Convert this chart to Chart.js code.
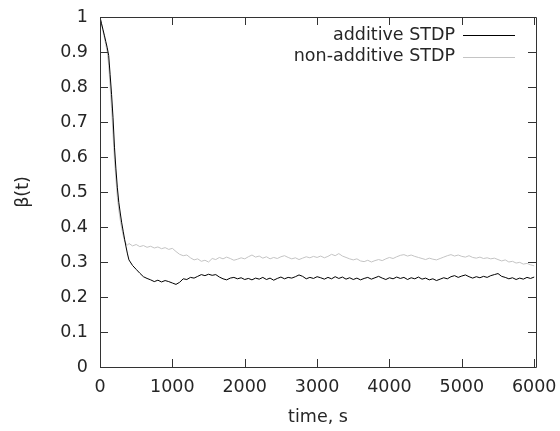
<!DOCTYPE html>
<html>
<head>
<meta charset="utf-8">
<script src="https://cdn.jsdelivr.net/npm/chart.js@4.4.1/dist/chart.umd.min.js"></script>
<style>
    html, body { margin: 0; padding: 0; background: #fff; }
    #wrap { width: 560px; height: 431px; }
</style>
</head>
<body>
<div id="wrap"><canvas id="betaChart" width="560" height="431"></canvas></div>
<script>
// time samples (s)
const times = [
    0, 20, 40, 60, 80, 100, 120, 140, 160, 180, 200, 220, 240, 260, 280, 300, 320, 340, 360, 380, 400,
    450, 500, 550, 600, 650, 700, 750, 800, 850, 900,
    950, 1000, 1050, 1100, 1150, 1200, 1250, 1300, 1350, 1400,
    1450, 1500, 1550, 1600, 1650, 1700, 1750, 1800, 1850, 1900,
    1950, 2000, 2050, 2100, 2150, 2200, 2250, 2300, 2350, 2400,
    2450, 2500, 2550, 2600, 2650, 2700, 2750, 2800, 2850, 2900,
    2950, 3000, 3050, 3100, 3150, 3200, 3250, 3300, 3350, 3400,
    3450, 3500, 3550, 3600, 3650, 3700, 3750, 3800, 3850, 3900,
    3950, 4000, 4050, 4100, 4150, 4200, 4250, 4300, 4350, 4400,
    4450, 4500, 4550, 4600, 4650, 4700, 4750, 4800, 4850, 4900,
    4950, 5000, 5050, 5100, 5150, 5200, 5250, 5300, 5350, 5400,
    5450, 5500, 5550, 5600, 5650, 5700, 5750, 5800, 5850, 5900,
    5950, 6000
];

// beta(t), additive STDP
const additive = [
    1.000, 0.982, 0.965, 0.948, 0.930, 0.912, 0.890, 0.835, 0.778, 0.712, 0.628, 0.566, 0.512, 0.470, 0.440, 0.412, 0.388, 0.365, 0.343, 0.323, 0.306,
    0.290, 0.279, 0.268, 0.258, 0.253, 0.249, 0.244, 0.248, 0.243, 0.247,
    0.244, 0.240, 0.236, 0.242, 0.252, 0.250, 0.256, 0.254, 0.259, 0.264,
    0.261, 0.265, 0.262, 0.264, 0.257, 0.252, 0.249, 0.254, 0.256, 0.252,
    0.255, 0.250, 0.253, 0.249, 0.254, 0.251, 0.256, 0.250, 0.254, 0.248,
    0.253, 0.257, 0.252, 0.256, 0.254, 0.258, 0.263, 0.259, 0.252, 0.256,
    0.253, 0.258, 0.255, 0.251, 0.256, 0.252, 0.258, 0.253, 0.257, 0.251,
    0.255, 0.250, 0.254, 0.249, 0.253, 0.256, 0.251, 0.255, 0.259, 0.254,
    0.250, 0.255, 0.252, 0.257, 0.253, 0.256, 0.250, 0.255, 0.252, 0.257,
    0.251, 0.254, 0.249, 0.252, 0.247, 0.251, 0.255, 0.252, 0.258, 0.261,
    0.256, 0.260, 0.263, 0.258, 0.254, 0.258, 0.255, 0.259, 0.256, 0.261,
    0.264, 0.267, 0.259, 0.256, 0.252, 0.255, 0.250, 0.254, 0.251, 0.256,
    0.253, 0.257
];

// beta(t), non-additive STDP
const nonAdditive = [
    1.000, 0.980, 0.961, 0.941, 0.921, 0.900, 0.862, 0.802, 0.738, 0.665, 0.592, 0.537, 0.484, 0.448, 0.420, 0.396, 0.376, 0.360, 0.352, 0.348, 0.353,
    0.346, 0.350, 0.344, 0.347, 0.342, 0.345, 0.340, 0.343, 0.338, 0.341,
    0.336, 0.339, 0.330, 0.322, 0.318, 0.320, 0.312, 0.306, 0.309, 0.302,
    0.305, 0.300, 0.310, 0.307, 0.313, 0.309, 0.314, 0.310, 0.305, 0.308,
    0.312, 0.309, 0.315, 0.320, 0.314, 0.317, 0.311, 0.315, 0.309, 0.313,
    0.310, 0.315, 0.318, 0.313, 0.309, 0.312, 0.307, 0.311, 0.315, 0.312,
    0.316, 0.313, 0.317, 0.312, 0.316, 0.322, 0.318, 0.324, 0.317, 0.313,
    0.309, 0.306, 0.309, 0.303, 0.301, 0.305, 0.300, 0.304, 0.307, 0.304,
    0.309, 0.313, 0.310, 0.315, 0.319, 0.321, 0.317, 0.320, 0.316, 0.313,
    0.310, 0.307, 0.311, 0.308, 0.306, 0.310, 0.314, 0.318, 0.321, 0.317,
    0.320, 0.316, 0.314, 0.318, 0.313, 0.311, 0.314, 0.310, 0.312, 0.309,
    0.311, 0.307, 0.303, 0.306, 0.300, 0.302, 0.297, 0.299, 0.294, 0.296,
    0.292, 0.289
];

const xTickValues = [0, 1000, 2000, 3000, 4000, 5000, 6000];
const yTickValues = [0, 0.1, 0.2, 0.3, 0.4, 0.5, 0.6, 0.7, 0.8, 0.9, 1];
const seriesLabels = ['additive STDP', 'non-additive STDP'];
const seriesColors = ['#000000', '#c4c4c4'];

const FONT = 'DejaVu Sans';
const FONT_SIZE = 17.5;
const TEXT_COLOR = '#262626';

function toPoints(ys) {
    return ys.map((y, i) => ({ x: times[i], y: y }));
}

// no label overhang padding: the plot box is set by layout.padding alone
function noScalePadding(scale) {
    scale.paddingLeft = 0;
    scale.paddingRight = 0;
    scale.paddingTop = 0;
    scale.paddingBottom = 0;
}

// gnuplot-like frame with inward ticks on all four sides, and in-plot key
const framePlugin = {
    id: 'frame',
    afterDatasetsDraw(chart) {
        const ctx = chart.ctx;
        const a = chart.chartArea;
        const xs = chart.scales.x;
        const ys = chart.scales.y;
        const tl = 8;
        ctx.save();
        ctx.strokeStyle = '#333';
        ctx.lineWidth = 1;
        ctx.beginPath();
        ctx.rect(Math.round(a.left) + 0.5, Math.round(a.top) + 0.5,
                 Math.round(a.right - a.left), Math.round(a.bottom - a.top));
        xTickValues.forEach(v => {
            const px = Math.round(xs.getPixelForValue(v)) + 0.5;
            ctx.moveTo(px, a.bottom); ctx.lineTo(px, a.bottom - tl);
            ctx.moveTo(px, a.top); ctx.lineTo(px, a.top + tl);
        });
        yTickValues.forEach(v => {
            const py = Math.round(ys.getPixelForValue(v)) + 0.5;
            ctx.moveTo(a.left, py); ctx.lineTo(a.left + tl, py);
            ctx.moveTo(a.right, py); ctx.lineTo(a.right - tl, py);
        });
        ctx.stroke();

        // key
        ctx.font = FONT_SIZE + 'px "' + FONT + '"';
        ctx.textAlign = 'right';
        ctx.textBaseline = 'middle';
        seriesLabels.forEach((label, i) => {
            const y = 35 + i * 21.5;
            ctx.fillStyle = TEXT_COLOR;
            ctx.fillText(label, 455, y);
            ctx.strokeStyle = seriesColors[i];
            ctx.beginPath();
            ctx.moveTo(463, Math.round(y) + 0.5);
            ctx.lineTo(515, Math.round(y) + 0.5);
            ctx.stroke();
        });
        ctx.restore();
    }
};

new Chart(document.getElementById('betaChart'), {
    type: 'line',
    data: {
        datasets: [
            {
                label: seriesLabels[0],
                data: toPoints(additive),
                borderColor: seriesColors[0],
                borderWidth: 1,
                pointRadius: 0,
                tension: 0,
                fill: false
            },
            {
                label: seriesLabels[1],
                data: toPoints(nonAdditive),
                borderColor: seriesColors[1],
                borderWidth: 1,
                pointRadius: 0,
                tension: 0,
                fill: false
            }
        ]
    },
    options: {
        responsive: false,
        animation: false,
        layout: { padding: { top: 17, right: 24, left: 0, bottom: 0 } },
        plugins: {
            legend: { display: false },
            tooltip: { enabled: false }
        },
        scales: {
            x: {
                type: 'linear',
                min: 0,
                max: 6025,
                afterFit: scale => { scale.height = 64; noScalePadding(scale); },
                afterBuildTicks: scale => { scale.ticks = xTickValues.map(v => ({ value: v })); },
                grid: { display: false, drawTicks: false },
                border: { display: false },
                ticks: {
                    padding: 10,
                    color: TEXT_COLOR,
                    font: { family: FONT, size: FONT_SIZE },
                    maxRotation: 0,
                    callback: v => String(v)
                },
                title: {
                    display: true,
                    text: 'time, s',
                    color: TEXT_COLOR,
                    font: { family: FONT, size: FONT_SIZE },
                    padding: { top: 0, bottom: 3 }
                }
            },
            y: {
                type: 'linear',
                min: 0,
                max: 1,
                afterFit: scale => { scale.width = 100; noScalePadding(scale); },
                afterBuildTicks: scale => { scale.ticks = yTickValues.map(v => ({ value: v })); },
                grid: { display: false, drawTicks: false },
                border: { display: false },
                ticks: {
                    padding: 12,
                    color: TEXT_COLOR,
                    font: { family: FONT, size: FONT_SIZE },
                    callback: v => String(v)
                },
                title: {
                    display: true,
                    text: 'β(t)',
                    color: TEXT_COLOR,
                    font: { family: FONT, size: FONT_SIZE },
                    padding: { top: 13, bottom: 0 }
                }
            }
        }
    },
    plugins: [framePlugin]
});
</script>
</body>
</html>
